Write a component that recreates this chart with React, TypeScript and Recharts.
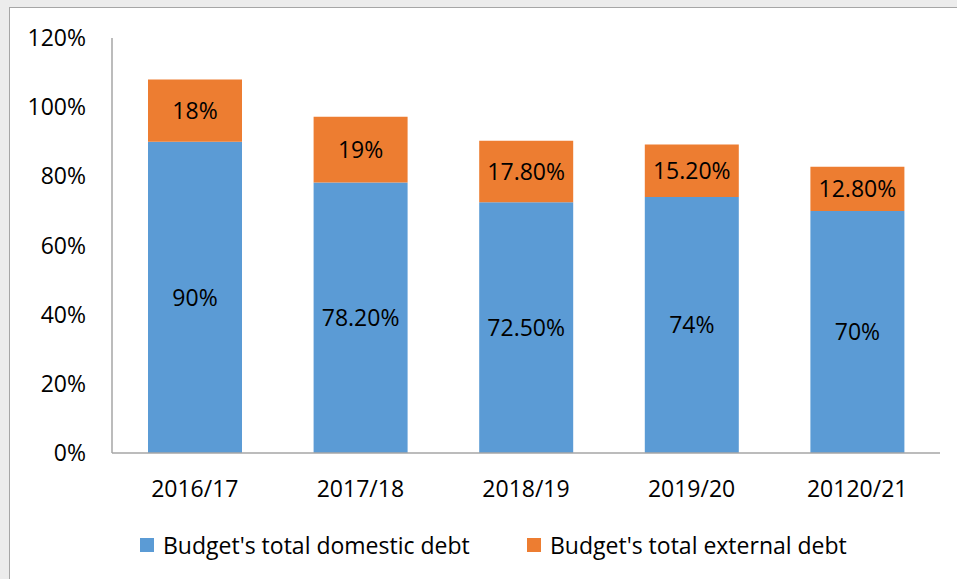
import React from 'react';
import { BarChart, Bar, XAxis, YAxis, LabelList, Legend } from 'recharts';

const years = ['2016/17', '2017/18', '2018/19', '2019/20', '20120/21'];
const domesticDebt = [90, 78.2, 72.5, 74, 70];
const externalDebt = [18, 19, 17.8, 15.2, 12.8];
const yTicks = [0, 20, 40, 60, 80, 100, 120];

const seriesNames = ["Budget's total domestic debt", "Budget's total external debt"];
const seriesColors = ['#5B9BD5', '#ED7D31'];

const FONT = '"Open Sans", sans-serif';
const FS = 23;

const data = years.map((year, i) => ({
  year,
  domestic: domesticDebt[i],
  external: externalDebt[i],
}));

function pct(v: number): string {
  return Number.isInteger(v) ? `${v}%` : `${v.toFixed(2)}%`;
}

const renderLegend = (props: any) => {
  const { payload = [] } = props;
  return (
    <div style={{ display: 'flex', fontFamily: FONT, fontSize: FS, color: '#000' }}>
      {payload.map((p: any, i: number) => (
        <div
          key={p.value}
          style={{ display: 'flex', alignItems: 'center', width: i === 0 ? 387 : 'auto' }}
        >
          <span style={{ width: 14, height: 14, background: p.color, marginRight: 9, display: 'inline-block' }} />
          <span>{p.value}</span>
        </div>
      ))}
    </div>
  );
};

export default function App() {
  return (
    <div style={{ position: 'fixed', inset: 0, background: '#ececec', overflow: 'hidden' }}>
      <div
        style={{
          position: 'absolute', left: 9, top: 7, width: 960, height: 590,
          background: '#fff', border: '1px solid #a6a6a6',
        }}
      >
        <BarChart
          width={947}
          height={571}
          data={data}
          margin={{ top: 30, right: 17, left: 0, bottom: 86 }}
          style={{ fontFamily: FONT }}
        >
          <XAxis
            dataKey="year"
            height={40}
            tickLine={false}
            tickSize={0}
            tickMargin={28}
            axisLine={{ stroke: '#a6a6a6', strokeWidth: 1.5 }}
            tick={{ fontSize: FS, fill: '#000' }}
          />
          <YAxis
            width={102}
            domain={[0, 120]}
            ticks={yTicks}
            tickFormatter={(v: number) => `${v}%`}
            tickLine={false}
            tickSize={0}
            tickMargin={26}
            axisLine={{ stroke: '#a6a6a6', strokeWidth: 1.5 }}
            tick={{ fontSize: FS, fill: '#000' }}
          />
          <Legend
            layout="horizontal"
            verticalAlign="middle"
            align="center"
            content={renderLegend}
            wrapperStyle={{ left: 130, top: 521, width: 780 }}
          />
          <Bar
            dataKey="domestic"
            name={seriesNames[0]}
            stackId="a"
            fill={seriesColors[0]}
            barSize={94}
            isAnimationActive={false}
          >
            <LabelList dataKey="domestic" position="center" formatter={(v: any) => pct(Number(v))} fill="#000" fontSize={FS} />
          </Bar>
          <Bar
            dataKey="external"
            name={seriesNames[1]}
            stackId="a"
            fill={seriesColors[1]}
            barSize={94}
            isAnimationActive={false}
          >
            <LabelList dataKey="external" position="center" formatter={(v: any) => pct(Number(v))} fill="#000" fontSize={FS} />
          </Bar>
        </BarChart>
      </div>
    </div>
  );
}
